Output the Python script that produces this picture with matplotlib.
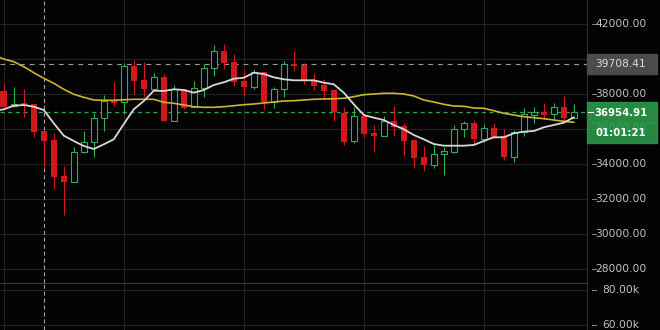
"""Candlestick chart with two moving averages, dark trading-terminal look"""
import numpy as np
import matplotlib.pyplot as plt
from matplotlib.patches import Rectangle

plt.rcParams['font.family'] = 'DejaVu Sans'
plt.rcParams['lines.scale_dashes'] = False

# candles, oldest first
opens = [38171, 37314, 37486, 37429, 35886, 35371, 33314, 32989, 34669, 35240,
         36611, 37640, 37526, 39600, 38783, 38269, 38971, 36474, 38269, 37250,
         38326, 39469, 40457, 39829, 38743, 38417, 39257, 37543, 38269, 39714,
         39640, 38726, 38497, 38229, 36931, 35297, 36743, 35754, 35617, 36457,
         36171, 35371, 34400, 33960, 34554, 34686, 35983, 36326, 35429, 36040,
         35583, 34417, 35811, 36817, 36954, 36857, 37240, 36646]
highs = [38571, 38383, 38286, 37460, 35920, 35771, 33886, 34989, 35886, 36931,
         37943, 38703, 39789, 39943, 39811, 39200, 39143, 38514, 38300, 38726,
         39714, 40783, 40857, 40286, 39354, 39429, 39280, 38417, 39869, 40440,
         39754, 39183, 38874, 38240, 37240, 37240, 36857, 36229, 36760, 37314,
         36326, 35390, 35029, 35086, 34989, 36229, 36457, 36497, 36286, 36343,
         36000, 35943, 37183, 37274, 37503, 37503, 37903, 37411]
lows = [37250, 37280, 36669, 35526, 33789, 32589, 31103, 32960, 34640, 34383,
        35903, 37331, 36857, 37983, 37811, 38190, 36450, 36440, 37126, 37250,
        37811, 39029, 39411, 38457, 37903, 38286, 37143, 37200, 37846, 39297,
        38554, 38211, 37754, 36457, 35086, 35183, 35560, 34686, 35600, 35600,
        34514, 33789, 33617, 33772, 33371, 34646, 35560, 35143, 35274, 35500,
        34229, 34131, 35600, 36360, 36589, 36571, 36440, 36620]
closes = [37276, 37429, 37331, 35846, 35331, 33274, 32989, 34669, 35240, 36611,
          37583, 37486, 39583, 38760, 38269, 38954, 36474, 38269, 37217, 38326,
          39469, 40440, 39789, 38669, 38417, 39240, 37543, 38269, 39697, 39617,
          38726, 38474, 38171, 36989, 35274, 36726, 35731, 35617, 36474, 36131,
          35331, 34360, 33960, 34554, 34726, 35983, 36326, 35446, 36040, 35526,
          34417, 35811, 36840, 36971, 36817, 37240, 36646, 36954.91]

# moving averages as drawn, one value per bar, starting one bar before the first candle
ma_fast = [37029, 37126, 37331, 37371, 37274, 37086, 36326, 35617, 35315, 35029,
           34857, 35126, 35412, 36286, 37126, 37600, 38189, 38172, 38269, 38229,
           38074, 38229, 38514, 38669, 38874, 38931, 39217, 39143, 38954, 38840,
           38783, 38783, 38783, 38646, 38554, 38074, 37412, 36800, 36646, 36514,
           36229, 35983, 35657, 35412, 35143, 35046, 35046, 35046, 35086, 35315,
           35526, 35526, 35754, 35846, 35886, 36097, 36229, 36360, 36669]
ma_slow = [40229, 40000, 39846, 39560, 39217, 38897, 38611, 38269, 37983, 37811,
           37657, 37640, 37640, 37669, 37697, 37697, 37697, 37526, 37469, 37371,
           37274, 37240, 37240, 37274, 37331, 37389, 37429, 37486, 37543, 37600,
           37617, 37657, 37697, 37714, 37731, 37754, 37846, 37960, 38000, 38040,
           38040, 38000, 37886, 37657, 37543, 37411, 37314, 37297, 37200, 37183,
           37046, 36897, 36800, 36703, 36646, 36589, 36514, 36440, 36383]

price_ticks = [28000, 30000, 32000, 34000, 36000, 38000, 40000, 42000]
vol_ticks = [60000, 80000]
vol_labels = ["60.00k", "80.00k"]
last_price = 36954.91
cross_price = 39708.41
cross_bar = 4
countdown = "01:01:21"

BG = '#030303'
GRID = '#232323'
RED = '#d3181c'
GREEN = '#2fae52'
LABEL = '#c4c4c4'
PX = 1.0 / 0.0175          # price units per pixel
W, H = 660, 330
AXW = 587                  # right edge of the plot area in pixels
SPLIT = 283                # top of the volume pane in pixels

fig = plt.figure(figsize=(W / 100, H / 100), dpi=100, facecolor=BG)
ax = fig.add_axes([0, (H - SPLIT) / H, AXW / W, SPLIT / H], facecolor=BG)
axv = fig.add_axes([0, 0, AXW / W, (H - SPLIT) / H], facecolor=BG)

# price pane
x = np.arange(len(opens))
o, h, l, c = map(np.array, (opens, highs, lows, closes))
up = c >= o
col = np.where(up, GREEN, RED)
ax.vlines(x, l, h, colors=col, lw=0.8, zorder=3)
body_lo = np.minimum(o, c)
body_h = np.maximum(np.abs(c - o), 0.8 * PX)
ax.bar(x[~up], body_h[~up], bottom=body_lo[~up], width=0.66, color=RED,
       lw=0, zorder=4)
ax.bar(x[up], body_h[up], bottom=body_lo[up], width=0.6, facecolor=BG,
       edgecolor=GREEN, lw=0.8, zorder=4)

xm = np.arange(-1, len(opens))
ax.plot(xm, ma_slow, color='#c9b630', lw=1.2, zorder=5)
ax.plot(xm, ma_fast, color='#d8d8d8', lw=1.3, zorder=5)

ax.axhline(last_price, color='#2aa54e', lw=0.9, ls=(0, (3, 2.5)), zorder=2)
ax.axhline(cross_price, color='#9a9a9a', lw=0.8, ls=(0, (3.5, 3.5)), zorder=2)
for a in (ax, axv):
    a.axvline(cross_bar, color='#a0a0a0', lw=0.8, ls=(0, (3, 2)), zorder=2)

ax.set_xlim(-0.38, -0.38 + AXW / 10)
ax.set_ylim(42000 - (SPLIT - 24) * PX, 42000 + 24 * PX)
ax.set_yticks(price_ticks)
ax.set_xticks(np.arange(0, len(opens), 12))
ax.grid(True, color=GRID, lw=0.8, zorder=0)

# volume pane (bars sit below the visible range)
axv.set_xlim(ax.get_xlim())
axv.set_ylim(60000 - 5 * 20000 / 35, 80000 + 7 * 20000 / 35)
axv.set_yticks(vol_ticks)
axv.set_xticks(np.arange(0, len(opens), 12))
axv.grid(True, color=GRID, lw=0.8, zorder=0)

for a in (ax, axv):
    a.tick_params(length=0, labelleft=False, labelbottom=False)
    for s in a.spines.values():
        s.set_visible(False)
    a.spines['right'].set_visible(True)
    a.spines['right'].set_color('#2c2c2c')
axv.spines['top'].set_visible(True)
axv.spines['top'].set_color('#3a3a3a')

# right-hand price scale
tx = ax.get_yaxis_transform()
xc = 621 / AXW
for p in price_ticks:
    ax.plot([592 / AXW, 596 / AXW], [p, p], transform=tx, color='#8a8a8a',
            lw=0.7, clip_on=False)
    # the crosshair tag hides the level right under it
    if abs(p - cross_price) < 12 * PX:
        continue
    ax.text(xc, p, f"{p:.2f}", transform=tx, ha='center', va='center',
            color=LABEL, fontsize=7.7, clip_on=False, zorder=1)
tv = axv.get_yaxis_transform()
for v, s in zip(vol_ticks, vol_labels):
    axv.text(xc, v, s, transform=tv, ha='center', va='center',
             color=LABEL, fontsize=7.7, clip_on=False)
    axv.plot([592 / AXW, 596 / AXW], [v, v], transform=tv, color='#8a8a8a',
             lw=0.7, clip_on=False)

bw = 70 / AXW
ax.add_patch(Rectangle((1.0, cross_price - 9.7 * PX), bw, 19.4 * PX,
                       transform=tx, color='#4b4b4b', clip_on=False, zorder=6))
ax.text(xc, cross_price, f"{cross_price:.2f}", transform=tx, ha='center',
        va='center', color='#dadada', fontsize=7.7, clip_on=False, zorder=7)

ax.add_patch(Rectangle((1.0, last_price - 10.1 * PX), bw, 20.7 * PX,
                       transform=tx, color='#2a9a4a', alpha=0.9,
                       clip_on=False, zorder=6))
ax.add_patch(Rectangle((1.0, last_price - 30.4 * PX), bw, 19.8 * PX,
                       transform=tx, color='#2a9a4a', alpha=0.88,
                       clip_on=False, zorder=6))
ax.plot([588 / AXW, 593 / AXW], [last_price, last_price], transform=tx,
        color='white', lw=0.8, clip_on=False, zorder=7)
ax.text(xc, last_price - 1.2 * PX, f"{last_price:.2f}", transform=tx,
        ha='center', va='center', color='white', fontsize=7.3,
        fontweight='bold', clip_on=False, zorder=7)
ax.text(xc, last_price - 20.5 * PX, countdown, transform=tx, ha='center',
        va='center', color='white', fontsize=7.3, fontweight='bold',
        clip_on=False, zorder=7)

fig.savefig("out.png", dpi=100, facecolor=BG)
